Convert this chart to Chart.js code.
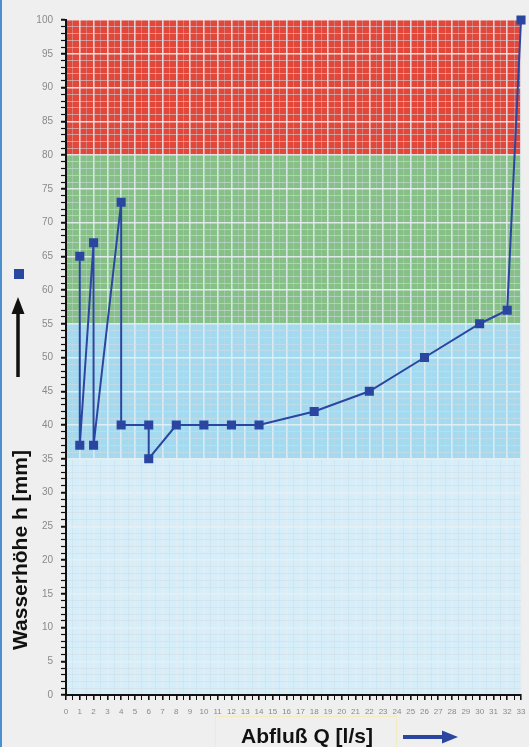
<!DOCTYPE html>
<html>
<head>
<meta charset="utf-8">
<script src="https://cdn.jsdelivr.net/npm/chart.js@4/dist/chart.umd.min.js"></script>
<style>
  html, body { margin:0; padding:0; background:#efefef; }
  body { width:529px; height:747px; position:relative; overflow:hidden; }
  #leftbar { position:absolute; left:0; top:0; width:2px; height:747px; background:#4a90d0; }
  #c { position:absolute; left:0; top:0; }
  .ttl { position:absolute; font-family:"Liberation Sans", Arial, sans-serif; font-weight:bold; font-size:21px; line-height:24px; color:#111; white-space:nowrap; text-align:center; }
  #ytitle { left:-100px; top:537.5px; width:240px; height:24px; transform:rotate(-90deg); }
  #xtitle { left:217px; top:724px; width:180px; height:24px; }
  #ybox { position:absolute; left:215px; top:716px; width:182px; height:40px; border:1.5px solid #f2ecc0; box-sizing:border-box; }
</style>
</head>
<body>
<div id="leftbar"></div>
<div id="ybox"></div>
<canvas id="c" width="529" height="747"></canvas>
<div class="ttl" id="ytitle">Wasserhöhe h [mm]</div>
<div class="ttl" id="xtitle">Abfluß Q [l/s]</div>
<script>
// ---- data ----
const flowQ   = [1, 1, 2, 2, 4, 4, 6, 6, 8, 10, 12, 14, 18, 22, 26, 30, 32, 33];
const heightH = [65, 37, 67, 37, 73, 40, 40, 35, 40, 40, 40, 40, 42, 45, 50, 55, 57, 100];
const bandLimits = [0, 35, 55, 80, 100];
const bandColors = ['#d6eef9', '#a4daf0', '#86c087', '#e2473a'];
const xMin = 0, xMax = 33, yMin = 0, yMax = 100;

const points = flowQ.map((q, i) => ({ x: q, y: heightH[i] }));
const lineBlue = '#2a46a0';

const bandsPlugin = {
  id: 'bands',
  beforeDraw(chart) {
    const { ctx, chartArea: a, scales: { y } } = chart;
    ctx.save();
    for (let i = 0; i < bandColors.length; i++) {
      const top = y.getPixelForValue(bandLimits[i + 1]);
      const bot = y.getPixelForValue(bandLimits[i]);
      ctx.fillStyle = bandColors[i];
      ctx.fillRect(a.left, top, a.right - a.left, bot - top);
    }
    ctx.restore();
  },
  afterDraw(chart) {
    const ctx = chart.ctx;
    ctx.save();
    ctx.fillStyle = lineBlue;
    ctx.fillRect(14, 269, 10, 10);
    ctx.strokeStyle = '#111';
    ctx.fillStyle = '#111';
    ctx.lineWidth = 3.5;
    ctx.beginPath(); ctx.moveTo(18, 377); ctx.lineTo(18, 310); ctx.stroke();
    ctx.beginPath(); ctx.moveTo(18, 297); ctx.lineTo(11.5, 314); ctx.lineTo(24.5, 314); ctx.closePath(); ctx.fill();
    ctx.strokeStyle = lineBlue;
    ctx.fillStyle = lineBlue;
    ctx.lineWidth = 4;
    ctx.beginPath(); ctx.moveTo(403, 737); ctx.lineTo(444, 737); ctx.stroke();
    ctx.beginPath(); ctx.moveTo(458, 737); ctx.lineTo(442, 730.5); ctx.lineTo(442, 743.5); ctx.closePath(); ctx.fill();
    ctx.restore();
  }
};

const tv = c => (c && c.tick) ? c.tick.value : 0;
const isInt = v => Math.abs(v - Math.round(v)) < 1e-6;
const is5 = v => isInt(v) && Math.round(v) % 5 === 0;

new Chart(document.getElementById('c'), {
  type: 'line',
  data: {
    datasets: [{
      data: points,
      borderColor: lineBlue,
      backgroundColor: lineBlue,
      borderWidth: 2,
      pointStyle: 'rect',
      pointRadius: 5,
      pointHoverRadius: 5,
      tension: 0,
      clip: false
    }]
  },
  options: {
    responsive: false,
    animation: false,
    devicePixelRatio: 1,
    layout: { padding: { top: 20, right: 8, left: 0, bottom: 0 } },
    plugins: { legend: { display: false }, tooltip: { enabled: false } },
    scales: {
      x: {
        type: 'linear', min: xMin, max: xMax,
        afterFit(s) { s.height = 52; s.paddingLeft = 0; s.paddingRight = 0; },
        ticks: {
          stepSize: 0.5, autoSkip: false, maxRotation: 0, minRotation: 0, padding: 7,
          color: '#8a8a8a',
          font: { family: 'Liberation Sans, Arial', size: 8 },
          callback: v => isInt(v) ? String(Math.round(v)) : ''
        },
        grid: {
          color: c => isInt(tv(c)) ? 'rgba(228,236,242,0.85)' : 'rgba(205,215,225,0.45)',
          lineWidth: c => isInt(tv(c)) ? 1.6 : 0.8,
          tickColor: '#111',
          tickLength: 5,
          tickWidth: c => isInt(tv(c)) ? 1.6 : 1
        },
        border: { color: '#111', width: 2 }
      },
      y: {
        type: 'linear', min: yMin, max: yMax,
        afterFit(s) { s.width = 66; s.paddingTop = 0; s.paddingBottom = 0; },
        ticks: {
          stepSize: 1, autoSkip: false, padding: 8,
          color: '#8a8a8a',
          font: { family: 'Liberation Sans, Arial', size: 10 },
          callback: v => is5(v) ? String(Math.round(v)) : ''
        },
        grid: {
          color: c => is5(tv(c)) ? 'rgba(232,238,242,0.9)' : 'rgba(210,220,228,0.55)',
          lineWidth: c => is5(tv(c)) ? 1.5 : 1,
          tickColor: '#111',
          tickLength: 5,
          tickWidth: c => is5(tv(c)) ? 2 : 1.2
        },
        border: { color: '#111', width: 2 }
      }
    }
  },
  plugins: [bandsPlugin]
});
</script>
</body>
</html>
